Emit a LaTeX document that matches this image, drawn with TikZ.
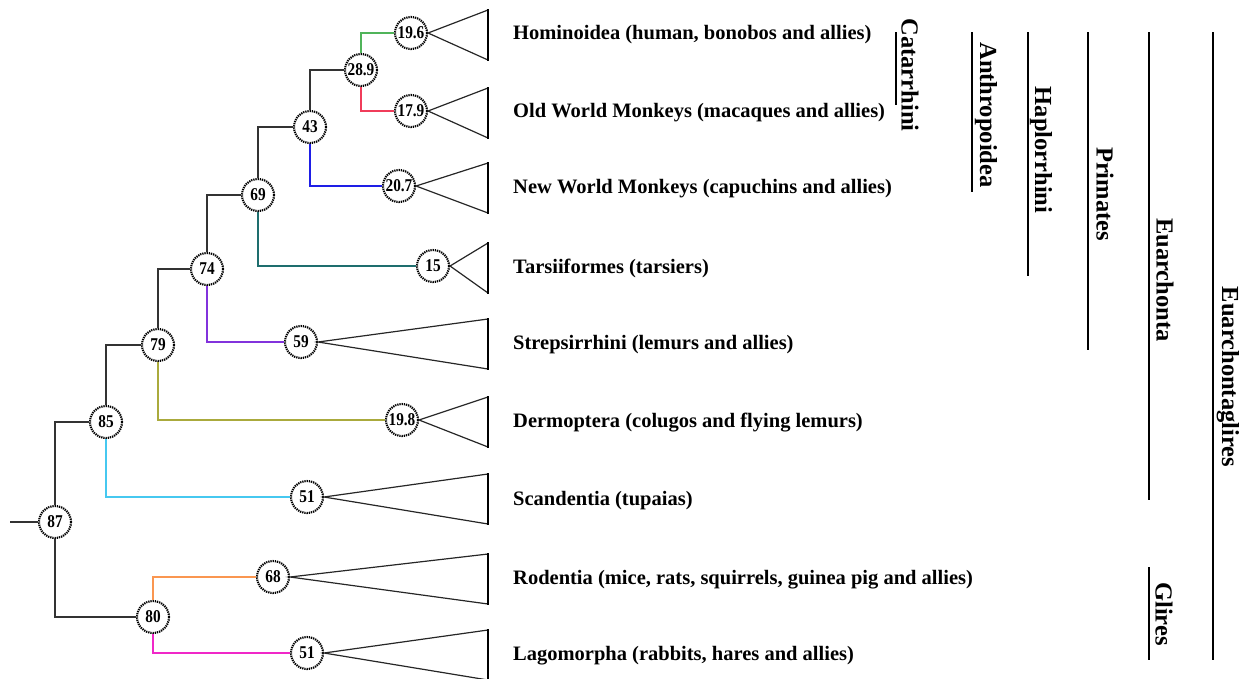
\documentclass[tikz,border=0pt]{standalone}
\usepackage{fontspec}
\setmainfont{Liberation Serif}
\newfontfamily\agefont[FakeStretch=0.85]{Liberation Serif}
\definecolor{cgreen}{RGB}{80,180,90}
\definecolor{cred}{RGB}{240,60,90}
\definecolor{cblue}{RGB}{30,30,230}
\definecolor{cteal}{RGB}{30,110,110}
\definecolor{cpurple}{RGB}{130,50,220}
\definecolor{colive}{RGB}{170,170,60}
\definecolor{ccyan}{RGB}{70,200,240}
\definecolor{corange}{RGB}{250,150,80}
\definecolor{cmagenta}{RGB}{240,40,200}
\tikzset{
  age/.style={circle, draw, line width=2.1pt, dash pattern=on 1.3pt off 0.9pt, minimum size=32pt, inner sep=0pt, fill=white,
     font=\agefont\fontsize{18}{18}\selectfont\bfseries},
  br/.style={line width=1.5pt, draw=black!80},
  tri/.style={line width=1.2pt, draw=black!85, line join=miter},
  lab/.style={anchor=west, inner sep=0pt, font=\fontsize{20.5}{22}\selectfont\bfseries},
  clade/.style={rotate=-90, inner sep=0pt, font=\fontsize{24.5}{26}\selectfont\bfseries},
  bar/.style={line width=2.8pt},
}
\begin{document}
\begin{tikzpicture}[x=1pt,y=-1pt]
\useasboundingbox (0,0) rectangle (1248,678);
% age nodes
\node[age] (a196) at (411,33) {19.6};
\node[age] (a289) at (361,70) {28.9};
\node[age] (a179) at (411,111) {17.9};
\node[age] (a43) at (310,127) {43};
\node[age] (a207) at (399,186) {20.7};
\node[age] (a69) at (258,195) {69};
\node[age] (a15) at (433,266) {15};
\node[age] (a74) at (207,269) {74};
\node[age] (a59) at (301,342) {59};
\node[age] (a79) at (158,345) {79};
\node[age] (a198) at (402,420) {19.8};
\node[age] (a85) at (106,422) {85};
\node[age] (a51s) at (307,497) {51};
\node[age] (a87) at (55,522) {87};
\node[age] (a68) at (273,577) {68};
\node[age] (a80) at (153,617) {80};
\node[age] (a51l) at (307,653) {51};
\coordinate (root) at (10,522);
% branches
\draw[br, draw=cgreen] (a289.north) |- (a196.west);
\draw[br, draw=cred] (a289.south) |- (a179.west);
\draw[br] (a43.north) |- (a289.west);
\draw[br, draw=cblue] (a43.south) |- (a207.west);
\draw[br] (a69.north) |- (a43.west);
\draw[br, draw=cteal] (a69.south) |- (a15.west);
\draw[br] (a74.north) |- (a69.west);
\draw[br, draw=cpurple] (a74.south) |- (a59.west);
\draw[br] (a79.north) |- (a74.west);
\draw[br, draw=colive] (a79.south) |- (a198.west);
\draw[br] (a85.north) |- (a79.west);
\draw[br, draw=ccyan] (a85.south) |- (a51s.west);
\draw[br] (a87.north) |- (a85.west);
\draw[br] (a87.south) |- (a80.west);
\draw[br, draw=corange] (a80.north) |- (a68.west);
\draw[br, draw=cmagenta] (a80.south) |- (a51l.west);
\draw[br] (root) -- (a87.west);
% triangles
\foreach \n/\y in {a196/33,a179/111,a207/186,a15/266,a59/342,a198/420,a51s/497,a68/577,a51l/653}{
  \draw[tri] (488,\y-23) -- (\n.east) -- (488,\y+27);
  \draw[line width=2.2pt] (488,\y-23.6) -- (488,\y+27.6);
}
% labels
\node[lab] (l1) at (513,35) {Hominoidea (human, bonobos and allies)};
\node[lab] (l2) at (513,113) {Old World Monkeys (macaques and allies)};
\node[lab] (l3) at (513,189) {New World Monkeys (capuchins and allies)};
\node[lab] (l4) at (513,268) {Tarsiiformes (tarsiers)};
\node[lab] (l5) at (513,345) {Strepsirrhini (lemurs and allies)};
\node[lab] (l6) at (513,423) {Dermoptera (colugos and flying lemurs)};
\node[lab] (l7) at (513,501) {Scandentia (tupaias)};
\node[lab] (l8) at (513,580) {Rodentia (mice, rats, squirrels, guinea pig and allies)};
\node[lab] (l9) at (513,656) {Lagomorpha (rabbits, hares and allies)};
% clade bars
\draw[bar] (896,32) -- (896,105);
\node[clade] (c1) at (910,75) {Catarrhini};
\draw[bar] (972,32) -- (972,192);
\node[clade] (c2) at (986,115) {Anthropoidea};
\draw[bar] (1028,32) -- (1028,276);
\node[clade] (c3) at (1041,150) {Haplorrhini};
\draw[bar] (1088,32) -- (1088,350);
\node[clade] (c4) at (1105,194) {Primates};
\draw[bar] (1149,32) -- (1149,500);
\node[clade] (c5) at (1165,280) {Euarchonta};
\draw[bar] (1213,32) -- (1213,660);
\node[clade] (c6) at (1228,377) {Euarchontaglires};
\draw[bar] (1149,567) -- (1149,660);
\node[clade] (c7) at (1164,614) {Glires};
\end{tikzpicture}
\end{document}
